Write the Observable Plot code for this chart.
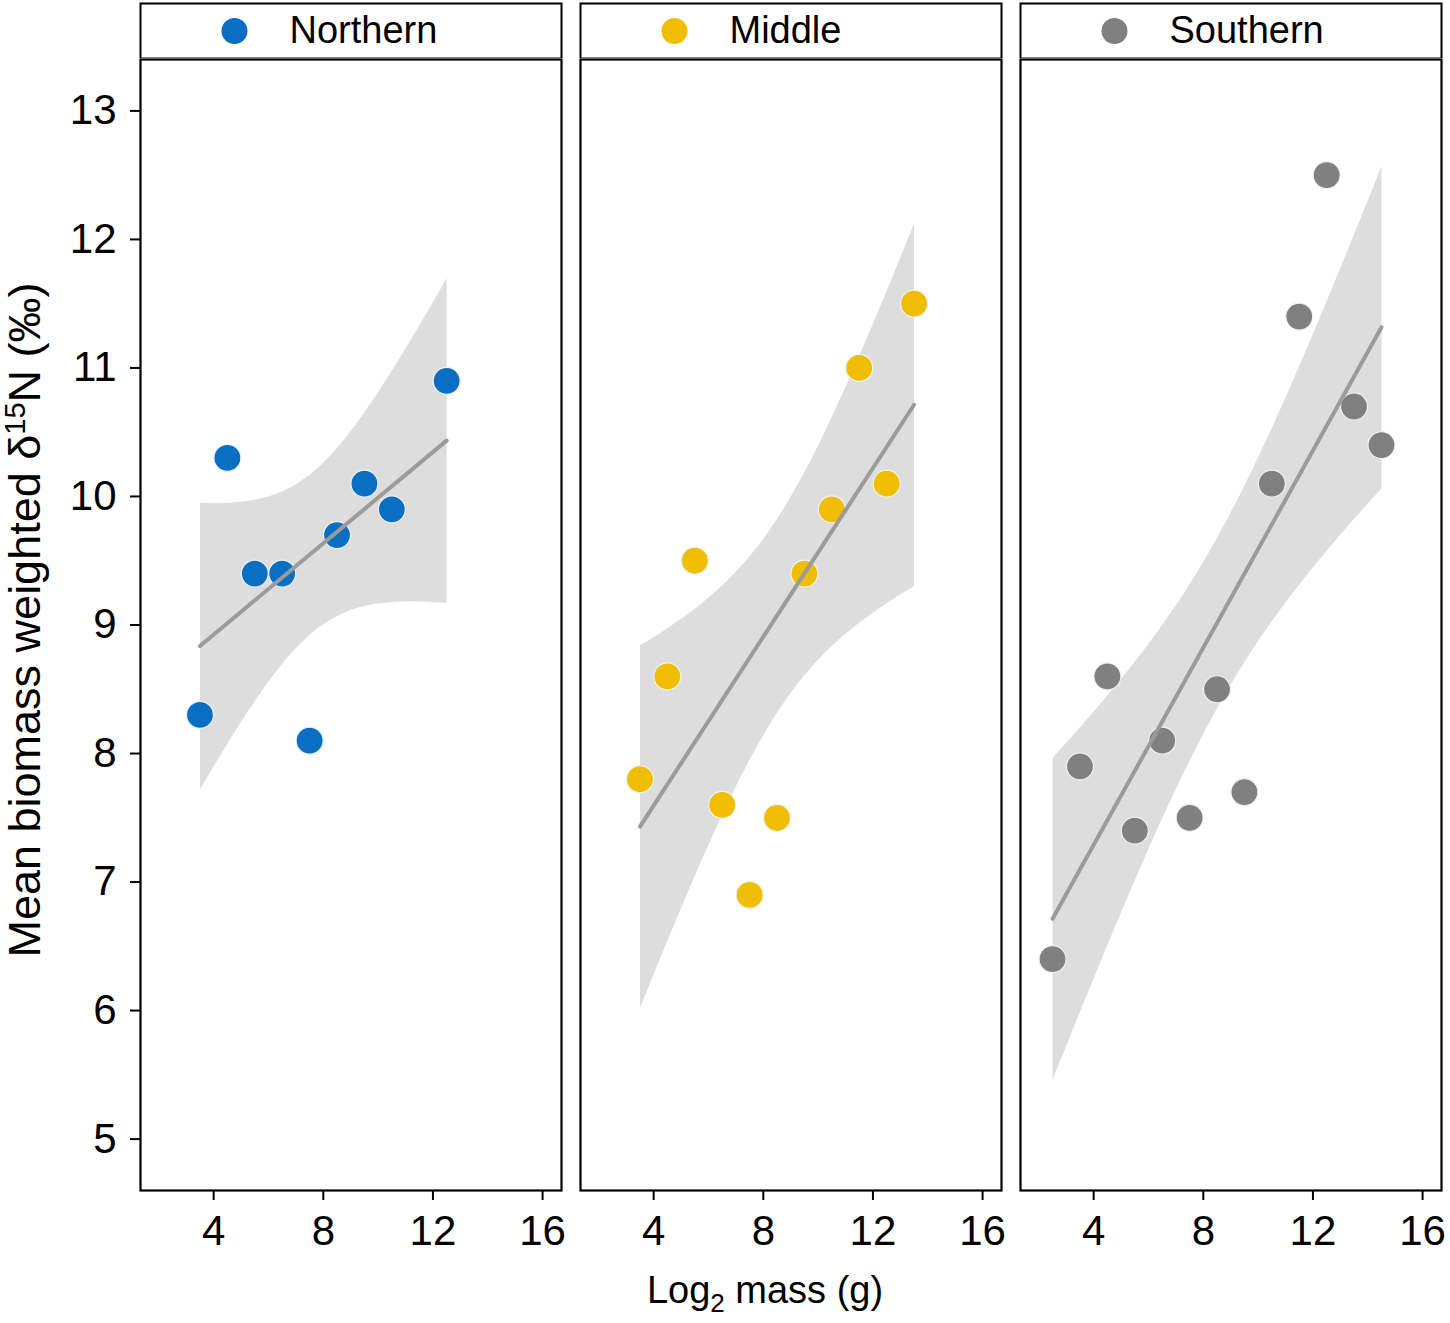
<!DOCTYPE html>
<html>
<head>
<meta charset="utf-8">
<script src="https://cdn.jsdelivr.net/npm/d3@7"></script>
<script src="https://cdn.jsdelivr.net/npm/@observablehq/plot@0.6"></script>
<style>
  html, body { margin: 0; padding: 0; background: #fff; }
  #wrap { position: relative; width: 1450px; height: 1323px; font-family: "Liberation Sans", Arial, sans-serif; }
  #wrap > div svg, #wrap > svg { display: block; }
  #overlay { position: absolute; left: 0; top: 0; pointer-events: none; }
</style>
</head>
<body>
<div id="wrap">
  <div id="strip"></div>
  <div id="main"></div>
</div>
<script>
// ---- data ----
const regions = ["Northern", "Middle", "Southern"];
const regionColors = ["#0a6fc2", "#efbe00", "#808080"];

const northernX = [3.5, 4.5, 5.5, 6.5, 7.5, 8.5, 9.5, 10.5, 12.5];
const northernY = [8.3, 10.3, 9.4, 9.4, 8.1, 9.7, 10.1, 9.9, 10.9];

const middleX = [3.5, 4.5, 5.5, 6.5, 7.5, 8.5, 9.5, 10.5, 11.5, 12.5, 13.5];
const middleY = [7.8, 8.6, 9.5, 7.6, 6.9, 7.5, 9.4, 9.9, 11.0, 10.1, 11.5];

const southernX = [2.5, 3.5, 4.5, 5.5, 6.5, 7.5, 8.5, 9.5, 10.5, 11.5, 12.5, 13.5, 14.5];
const southernY = [6.4, 7.9, 8.6, 7.4, 8.1, 7.5, 8.5, 7.7, 10.1, 11.4, 12.5, 10.7, 10.4];

const xTicks = [4, 8, 12, 16];
const yTicks = [5, 6, 7, 8, 9, 10, 11, 12, 13];

// ---- build table ----
const seriesX = [northernX, middleX, southernX];
const seriesY = [northernY, middleY, southernY];
const rows = [];
regions.forEach((r, i) => seriesX[i].forEach((x, j) => rows.push({region: r, mass: x, d15N: seriesY[i][j]})));

const W = 1450;
const font = "Liberation Sans, Arial, sans-serif";
const fxScale = {domain: regions, axis: null, paddingInner: 0.0432, paddingOuter: 0};

// ---- strip headers ----
const strip = Plot.plot({
  width: W, height: 58,
  marginLeft: 140, marginRight: 9, marginTop: 3, marginBottom: 0,
  fx: fxScale,
  color: {domain: regions, range: regionColors},
  style: {fontFamily: font, color: "black", background: "white"},
  marks: [
    Plot.frame({stroke: "black", strokeWidth: 2}),
    Plot.dot(regions, {fx: d => d, fill: d => d, frameAnchor: "left", dx: 94, r: 13}),
    Plot.text(regions, {fx: d => d, text: d => d, frameAnchor: "left", dx: 149, textAnchor: "start", fontSize: 38, fill: "black"})
  ]
});
document.getElementById("strip").appendChild(strip);

// ---- main panels ----
const main = Plot.plot({
  width: W, height: 1265,
  marginLeft: 140, marginRight: 9, marginTop: 1, marginBottom: 133,
  fx: fxScale,
  x: {domain: [1.33, 16.69], label: null},
  y: {domain: [4.6, 13.4], label: null},
  color: {domain: regions, range: regionColors},
  style: {fontFamily: font, color: "black", background: "white"},
  marks: [
    Plot.linearRegressionY(rows, {x: "mass", y: "d15N", fx: "region", ci: 0.95, fill: "#9a9a9a", fillOpacity: 0.34, stroke: null}),
    Plot.dot(rows, {x: "mass", y: "d15N", fx: "region", fill: "region", r: 13.5, stroke: "#eef2f7", strokeWidth: 1.2}),
    Plot.linearRegressionY(rows, {x: "mass", y: "d15N", fx: "region", ci: 0, stroke: "#9b9b9b", strokeWidth: 4}),
    Plot.frame({stroke: "black", strokeWidth: 2.2}),
    Plot.axisX({ticks: xTicks, tickSize: 10, tickPadding: 15, fontSize: 42, strokeWidth: 2, label: null, tickFormat: d => String(d)}),
    Plot.axisY({ticks: yTicks, tickSize: 10, tickPadding: 14, fontSize: 42, strokeWidth: 2, label: null, tickFormat: d => String(d)})
  ]
});
document.getElementById("main").appendChild(main);

// ---- axis titles with sub/superscripts ----
const ov = d3.select("#wrap").append("svg")
  .attr("id", "overlay").attr("width", W).attr("height", 1323)
  .style("font-family", font);

const yt = ov.append("text")
  .attr("transform", "translate(40,620) rotate(-90)")
  .attr("text-anchor", "middle").attr("font-size", 45).attr("fill", "black");
yt.append("tspan").text("Mean biomass weighted δ");
yt.append("tspan").attr("font-size", 29).attr("dy", -15).text("15");
yt.append("tspan").attr("dy", 15).text("N (‰)");

const xt = ov.append("text")
  .attr("x", 765).attr("y", 1303)
  .attr("text-anchor", "middle").attr("font-size", 38).attr("fill", "black");
xt.append("tspan").text("Log");
xt.append("tspan").attr("font-size", 26).attr("dy", 9).text("2");
xt.append("tspan").attr("dy", -9).text(" mass (g)");
</script>
</body>
</html>
